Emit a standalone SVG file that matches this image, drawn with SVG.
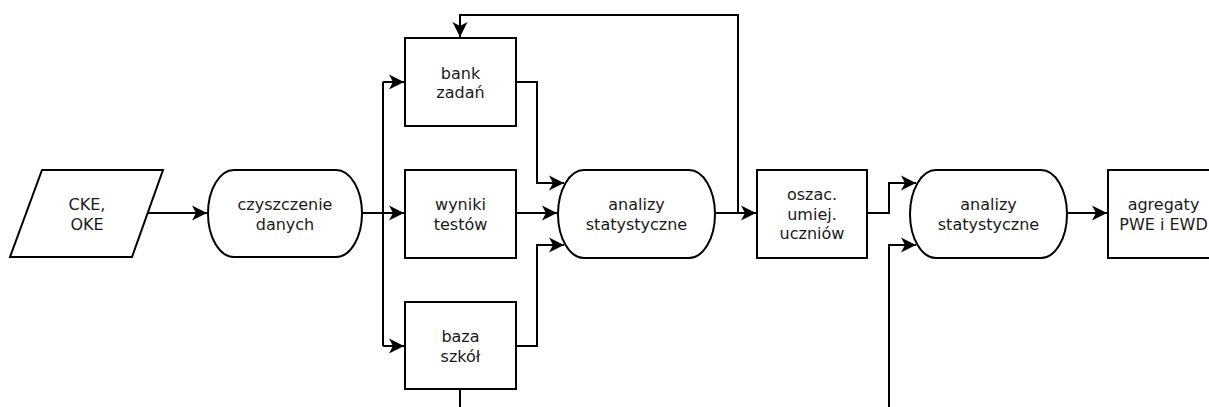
<svg xmlns="http://www.w3.org/2000/svg" width="1209" height="407" viewBox="0 0 1209 407">
  <style>
    .shape { fill: #ffffff; stroke: #000000; stroke-width: 2; }
    .label { font-family: "DejaVu Sans", "Liberation Sans", sans-serif; font-size: 16px; fill: #1a1a1a; text-anchor: middle; }
    .wire { fill: none; stroke: #000000; stroke-width: 2; }
    .arrow { marker-end: url(#head); }
  </style>
  <defs>
    <marker id="head" markerUnits="userSpaceOnUse" markerWidth="18" markerHeight="18" viewBox="-16 -9 18 18" refX="0" refY="0" orient="auto">
      <path d="M0,0 L-15,-7.5 L-11,0 L-15,7.5 Z" fill="#000000"/>
    </marker>
  </defs>
  <rect width="1209" height="407" fill="#ffffff"/>

  <!-- connectors -->
  <g id="connectors">
    <path class="wire arrow" d="M148,213 L207,213"/>
    <path class="wire" d="M362,213 L383,213"/>
    <path class="wire" d="M383,82 L383,346"/>
    <path class="wire arrow" d="M383,82 L404,82"/>
    <path class="wire arrow" d="M383,213 L404,213"/>
    <path class="wire arrow" d="M383,346 L404,346"/>
    <path class="wire arrow" d="M516,82 L537,82 L537,183 L564,183"/>
    <path class="wire arrow" d="M516,213 L557,213"/>
    <path class="wire arrow" d="M516,346 L537,346 L537,245 L564,245"/>
    <path class="wire arrow" d="M715,213 L756,213"/>
    <path class="wire arrow" d="M738,213 L738,15 L460,15 L460,37"/>
    <path class="wire" d="M460,389 L460,407"/>
    <path class="wire arrow" d="M867,213 L889,213 L889,183 L916,183"/>
    <path class="wire arrow" d="M889,407 L889,245 L916,245"/>
    <path class="wire arrow" d="M1067,213 L1107,213"/>
  </g>

  <g id="source">
    <polygon class="shape" points="42,170 163,170 132,257 10,257"/>
    <text class="label" x="87" y="210">CKE,</text>
    <text class="label" x="87" y="229.5">OKE</text>
  </g>

  <g id="cleaning">
    <rect class="shape" x="208" y="170" width="154" height="87" rx="26" ry="43.5"/>
    <text class="label" x="285" y="210">czyszczenie</text>
    <text class="label" x="285" y="229.5">danych</text>
  </g>

  <g id="item-bank">
    <rect class="shape" x="405" y="38" width="111" height="88"/>
    <text class="label" x="460.5" y="78.5">bank</text>
    <text class="label" x="460.5" y="98">zadań</text>
  </g>

  <g id="test-results">
    <rect class="shape" x="405" y="170" width="111" height="88"/>
    <text class="label" x="460.5" y="210">wyniki</text>
    <text class="label" x="460.5" y="229.5">testów</text>
  </g>

  <g id="school-db">
    <rect class="shape" x="405" y="302" width="111" height="87"/>
    <text class="label" x="460.5" y="342">baza</text>
    <text class="label" x="460.5" y="361.5">szkół</text>
  </g>

  <g id="stats-1">
    <rect class="shape" x="558" y="170" width="157" height="88" rx="26" ry="44"/>
    <text class="label" x="636.5" y="210">analizy</text>
    <text class="label" x="636.5" y="229.5">statystyczne</text>
  </g>

  <g id="ability-estimates">
    <rect class="shape" x="757" y="170" width="110" height="88"/>
    <text class="label" x="812" y="200">oszac.</text>
    <text class="label" x="812" y="219.5">umiej.</text>
    <text class="label" x="812" y="239">uczniów</text>
  </g>

  <g id="stats-2">
    <rect class="shape" x="910" y="170" width="157" height="88" rx="26" ry="44"/>
    <text class="label" x="988.5" y="210">analizy</text>
    <text class="label" x="988.5" y="229.5">statystyczne</text>
  </g>

  <g id="aggregates">
    <rect class="shape" x="1108" y="170" width="111" height="88"/>
    <text class="label" x="1163.5" y="210">agregaty</text>
    <text class="label" x="1163.5" y="229.5">PWE i EWD</text>
  </g>
</svg>
